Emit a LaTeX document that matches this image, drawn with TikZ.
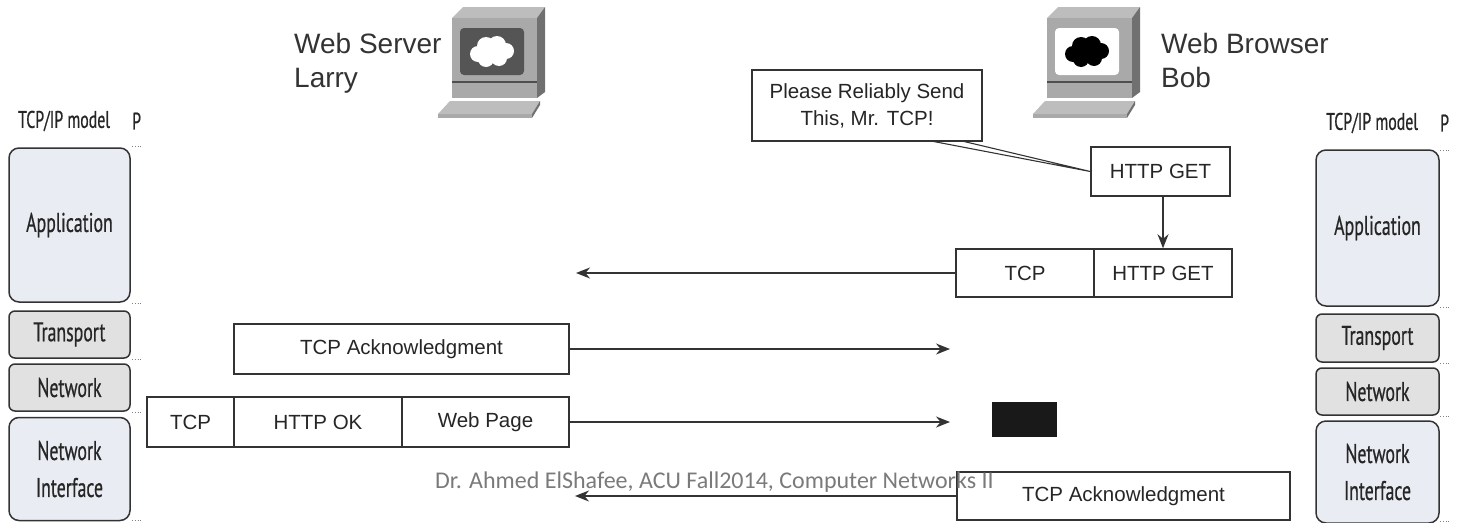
\documentclass[tikz,border=0pt]{standalone}
\usepackage{fontspec}
\setmainfont{Liberation Sans}
\newfontfamily\condfont[FakeStretch=0.66,FakeBold=0.6]{PT Sans}
\newfontfamily\footfont{Carlito}
\usetikzlibrary{arrows.meta}
\definecolor{boxline}{HTML}{333333}
\definecolor{appfill}{HTML}{E9EDF3}
\definecolor{midfill}{HTML}{E1E1E1}
\definecolor{pcfront}{HTML}{A9A9A9}
\definecolor{pctop}{HTML}{BDBDBD}
\definecolor{pcside}{HTML}{707070}
\definecolor{pcscreen}{HTML}{555555}
\definecolor{foot}{HTML}{7A7A7A}
\newcommand\drawpc[4]{%
\begin{scope}[shift={(#1,#2)}]
 \fill[pctop] (0,0) -- (11,-11) -- (93,-11) -- (85,0) -- cycle;
 \fill[pcside] (85,0) -- (93,-11) -- (93,74) -- (85,80) -- cycle;
 \fill[pcfront] (0,0) rectangle (85,80);
 \draw[pcside!70!black,line width=1.2pt] (0,64) -- (85,64);
 \fill[#3,rounded corners=4pt] (8,10) rectangle (72,57);
 \fill[#4] (26,36) circle (8) (34,28) circle (9) (45,27) circle (9) (54,33) circle (8)
   (47,40) circle (8) (34,41) circle (8) (40,34) circle (10);
 \fill[pctop] (-2,83) -- (88,83) -- (80,96) -- (-14,96) -- cycle;
 \fill[pcside] (80,96) -- (88,83) -- (88,87) -- (80,100) -- cycle;
 \fill[pcfront] (-14,96) rectangle (80,100);
\end{scope}}
\tikzset{
 pkt/.style={draw=boxline,line width=1.5pt,fill=white,inner sep=0pt,
   font=\fontsize{20.5}{24}\selectfont,text=black!85},
 layer/.style={draw=boxline,line width=1.5pt,inner sep=0pt,rounded corners=10pt,
   font=\condfont\fontsize{27}{37}\selectfont,text=black!85,align=center},
 hdr/.style={font=\condfont\fontsize{24}{26}\selectfont,text=black!85,inner sep=0pt},
 big/.style={font=\fontsize{28}{32}\selectfont,text=black!80,inner sep=0pt,anchor=base west},
 arr/.style={line width=1.6pt,draw=boxline,-{Stealth[length=14pt,width=11pt]}},
 dots/.style={dotted,line width=0.8pt,draw=black!50}
}
\begin{document}
\begin{tikzpicture}[x=1pt,y=-1pt]
\useasboundingbox (0,0) rectangle (1463,522);
% computers
\drawpc{452}{18}{pcscreen}{white}
\drawpc{1047}{18}{white}{black}
\node[big] (ws) at (294,53) {Web Server};
\node[big] (larry) at (294,87) {Larry};
\node[big] (wb) at (1161,53) {Web Browser};
\node[big] (bob) at (1161,87) {Bob};
% left stack
\node[hdr,anchor=west] (lh) at (18,121) {TCP/IP model};
\node[hdr,anchor=west] (lp) at (132,121) {P};
\node[layer,fill=appfill,minimum width=121pt,minimum height=154pt] (lapp) at (69.5,225) {Application};
\node[layer,fill=midfill,rounded corners=6pt,minimum width=121pt,minimum height=47pt] (ltr) at (69.5,334.5) {Transport};
\node[layer,fill=midfill,rounded corners=6pt,minimum width=121pt,minimum height=47pt] (lnet) at (69.5,387.5) {Network};
\node[layer,fill=appfill,minimum width=121pt,minimum height=103pt] (lni) at (69.5,469) {Network\\Interface};
% right stack
\node[hdr,anchor=west] (rh) at (1326,123) {TCP/IP model};
\node[hdr,anchor=west] (rp) at (1440,123) {P};
\node[layer,fill=appfill,minimum width=123pt,minimum height=156pt] (rapp) at (1377.5,228) {Application};
\node[layer,fill=midfill,rounded corners=6pt,minimum width=123pt,minimum height=48pt] (rtr) at (1377.5,338) {Transport};
\node[layer,fill=midfill,rounded corners=6pt,minimum width=123pt,minimum height=47pt] (rnet) at (1377.5,391.5) {Network};
\node[layer,fill=appfill,minimum width=123pt,minimum height=102pt] (rni) at (1377.5,472) {Network\\Interface};
% dotted marks
\foreach \yy in {146,303,359,412,520} {\draw[dots] (132,\yy) -- (143,\yy);}
\foreach \yy in {150,307,363,416,521} {\draw[dots] (1440,\yy) -- (1451,\yy);}
% callout
\node[pkt,minimum width=230pt,minimum height=71pt,align=center,font=\fontsize{20.5}{27}\selectfont] (call) at (867,105.5) {Please Reliably Send\\This, Mr. TCP!};
\node[pkt,minimum width=139pt,minimum height=49pt] (get) at (1160.5,171.5) {HTTP GET};
\coordinate (t1) at (931,141);
\coordinate (t2) at (962,141);
\draw[line width=1.1pt,boxline] (t1) -- (get.west) (t2) -- (get.west);
% TCP + HTTP GET
\node[pkt,minimum width=138pt,minimum height=48pt] (tcp1) at (1025,273) {TCP};
\node[pkt,minimum width=138pt,minimum height=48pt] (get2) at (1163,273) {HTTP GET};
\draw[arr] (get.south -| 1163,0) -- (get2.north -| 1163,0);
\coordinate (a1) at (576,273);
\draw[arr] (tcp1.west) -- (a1);
% TCP ack upper
\node[pkt,minimum width=335pt,minimum height=50pt] (ack1) at (401.5,349) {TCP Acknowledgment};
\coordinate (a2) at (950,349);
\draw[arr] (ack1.east) -- (a2);
% response
\node[pkt,minimum width=87pt,minimum height=50pt] (tcp2) at (190.5,422) {TCP};
\node[pkt,minimum width=168pt,minimum height=50pt] (ok) at (318,422) {HTTP OK};
\node[pkt,minimum width=167pt,minimum height=50pt] (page) at (485.5,422) {Web Page};
\coordinate (a3) at (950,422);
\draw[arr] (page.east) -- (a3);
\node[fill=black!90,minimum width=65pt,minimum height=35pt,inner sep=0pt] (blk) at (1024.5,419.5) {};
% bottom ack
\node[pkt,minimum width=333pt,minimum height=48pt] (ack2) at (1123.5,496) {TCP Acknowledgment};
\coordinate (a4) at (575,496);
\draw[arr] (ack2.west) -- (a4);
% footer
\node[anchor=base west,inner sep=0pt,font=\footfont\fontsize{24}{28}\selectfont,text=foot] (ft) at (435,488) {Dr. Ahmed ElShafee, ACU Fall2014, Computer Networks II};
\end{tikzpicture}
\end{document}
